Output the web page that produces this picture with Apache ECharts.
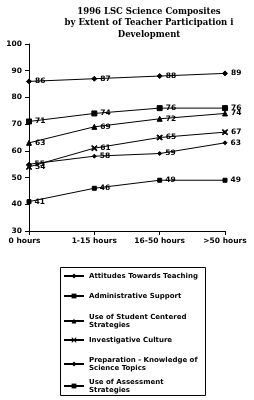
<!DOCTYPE html>
<html><head><meta charset="utf-8">
<script src="https://cdn.jsdelivr.net/npm/echarts@6/dist/echarts.min.js"></script>
<style>html,body{margin:0;padding:0;background:#fff}#c{width:254px;height:400px}</style>
</head><body><div id="c"></div>
<script>
const categories = ['0 hours', '1-15 hours', '16-50 hours', '>50 hours'];
const seriesNames = ['Attitudes Towards Teaching', 'Administrative Support', 'Use of Student Centered\nStrategies', 'Investigative Culture', 'Preparation - Knowledge of\nScience Topics', 'Use of Assessment\nStrategies'];
const attitudes = [86, 87, 88, 89];
const admin = [71, 74, 76, 76];
const studentCentered = [63, 69, 72, 74];
const investigative = [54, 61, 65, 67];
const preparation = [55, 58, 59, 63];
const assessment = [41, 46, 49, 49];
const yTicks = [30, 40, 50, 60, 70, 80, 90, 100];

const dataArr = [attitudes, admin, studentCentered, investigative, preparation, assessment];
const symbols = ['diamond', 'rect', 'triangle',
  'path://M0,0 L0.15,0 L1,0.85 L1,1 L0.85,1 L0,0.15Z M1,0 L1,0.15 L0.15,1 L0,1 L0,0.85 L0.85,0Z',
  'diamond', 'rect'];
const symSizes = [5, 5, 5, 5, 4, 4];
const FONT = 'DejaVu Sans';
const chart = echarts.init(document.getElementById('c'));
const legendTops = [272, 292, 313, 336, 356, 378];
const legends = seriesNames.map((n, i) => ({
  data: [n], left: 63, top: legendTops[i], orient: 'vertical',
  itemWidth: 20, itemHeight: 6, itemGap: 0, padding: 0, selectedMode: false,
  textStyle: { fontFamily: FONT, fontSize: 7, fontWeight: 'bold', color: '#000', lineHeight: 8 }
}));
const lblFont = { fontFamily: FONT, fontSize: 7.5, fontWeight: 'bold', color: '#000' };
chart.setOption({
  animation: false,
  title: {
    text: '1996 LSC Science Composites\nby Extent of Teacher Participation i\nDevelopment',
    left: 144, textAlign: 'center', top: 1,
    textStyle: { fontFamily: 'DejaVu Serif', fontSize: 8.5, fontWeight: 'bold', color: '#000', lineHeight: 11.5 }
  },
  legend: legends,
  graphic: [{ type: 'rect', shape: { x: 60.5, y: 267.5, width: 145, height: 128 }, style: { fill: 'none', stroke: '#000', lineWidth: 1 } }],
  grid: { left: 29, right: 29, top: 44, bottom: 169 },
  xAxis: {
    type: 'category', data: categories, boundaryGap: false,
    axisLine: { lineStyle: { color: '#000', width: 1 } },
    axisTick: { alignWithLabel: true, interval: 0, length: 4, lineStyle: { color: '#000' } },
    axisLabel: Object.assign({ interval: 0, margin: 6,
      formatter: (v, i) => i === 0 ? '{f|' + v + '}' : v,
      rich: { f: Object.assign({ padding: [0, 9, 0, 0] }, lblFont) } }, lblFont)
  },
  yAxis: {
    type: 'value', min: yTicks[0], max: yTicks[yTicks.length - 1], interval: 10,
    axisLine: { show: true, lineStyle: { color: '#000', width: 1 } },
    axisTick: { show: true, length: 4, lineStyle: { color: '#000' } },
    splitLine: { show: false },
    axisLabel: Object.assign({ margin: 7 }, lblFont)
  },
  series: dataArr.map((d, i) => ({
    name: seriesNames[i], type: 'line', data: d,
    symbol: symbols[i], symbolSize: symSizes[i], showAllSymbol: true,
    lineStyle: { color: '#000', width: 1 },
    itemStyle: { color: '#000', borderColor: '#000' },
    label: Object.assign({ show: true, position: 'right', distance: 3 }, lblFont)
  }))
});
</script></body></html>
